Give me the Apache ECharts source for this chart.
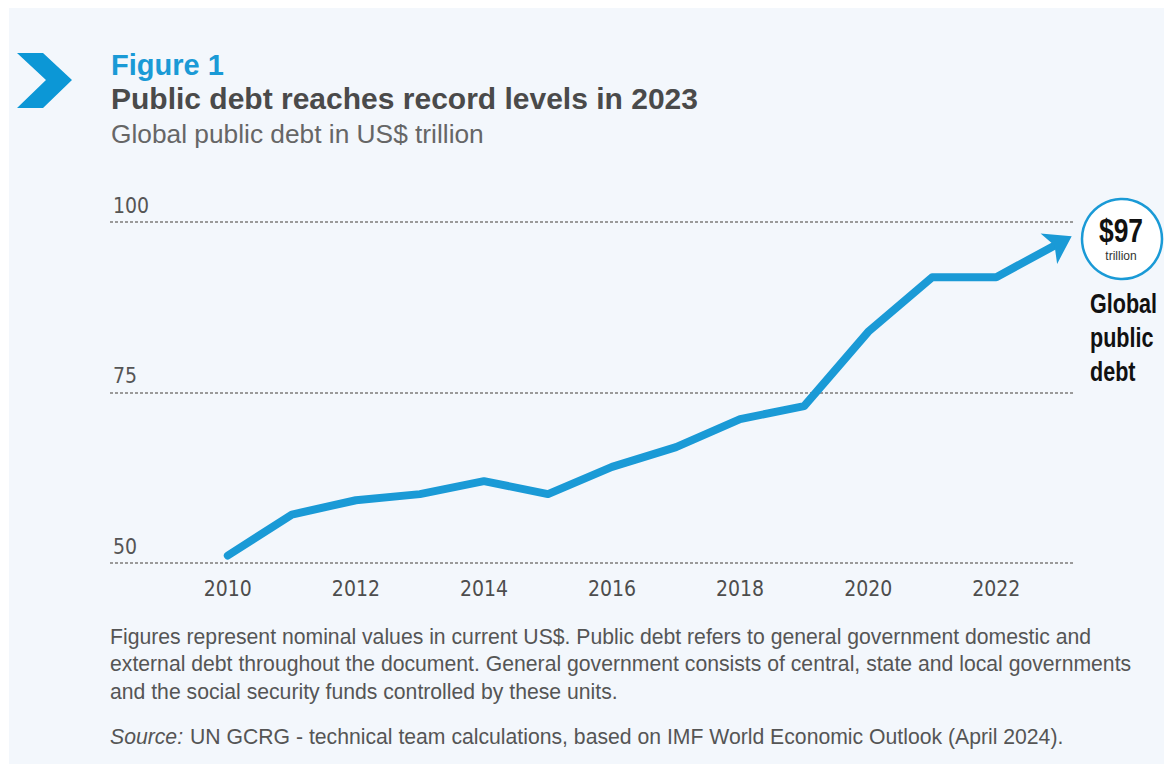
<!DOCTYPE html>
<html>
<head>
<meta charset="utf-8">
<script src="https://cdn.jsdelivr.net/npm/echarts@6/dist/echarts.min.js"></script>
<style>
  html, body { margin: 0; padding: 0; background: #ffffff; }
  #chart { width: 1171px; height: 764px; }
</style>
</head>
<body>
<div id="chart"></div>
<script>
// ---- data ----
const years = [2010, 2011, 2012, 2013, 2014, 2015, 2016, 2017, 2018, 2019, 2020, 2021, 2022, 2023];
const debt = [51.1, 57.1, 59.2, 60.1, 62.0, 60.1, 64.1, 67.0, 71.1, 73.0, 83.9, 91.9, 91.9, 97.0];
const xTickLabels = [2010, 2012, 2014, 2016, 2018, 2020, 2022];
const yTicks = [50, 75, 100];
const figureLabel = 'Figure 1';
const titleText = 'Public debt reaches record levels in 2023';
const subtitleText = 'Global public debt in US$ trillion';
const calloutValue = '$97';
const calloutUnit = 'trillion';
const calloutLines = ['Global', 'public', 'debt'];
const noteLines = [
  'Figures represent nominal values in current US$. Public debt refers to general government domestic and',
  'external debt throughout the document. General government consists of central, state and local governments',
  'and the social security funds controlled by these units.'
];
const sourceLabel = 'Source:';
const sourceText = 'UN GCRG - technical team calculations, based on IMF World Economic Outlook (April 2024).';

// ---- styles ----
const BLUE = '#1a9ad6';
const NARROW = '"DejaVu Sans Condensed", "Liberation Sans", sans-serif';
const SANS = '"Liberation Sans", Arial, sans-serif';

const chart = echarts.init(document.getElementById('chart'), null, { renderer: 'svg' });

const seriesData = years.map((y, i) => [y, debt[i]]);
const n = years.length;

const graphics = [
  { type: 'rect', z: -10, shape: { x: 9, y: 8, width: 1155, height: 760 }, style: { fill: '#f3f7fc' } },
  { type: 'polygon', shape: { points: [[17, 53], [43, 53], [72, 80], [43, 108], [17, 108], [46, 80]] }, style: { fill: '#0c97d6' } },
  { type: 'text', x: 111, y: 65, style: { text: figureLabel, font: 'bold 29px ' + SANS, fill: BLUE, verticalAlign: 'middle' } },
  { type: 'text', x: 111, y: 98, style: { text: titleText, font: 'bold 30px ' + SANS, fill: '#4a4a4a', verticalAlign: 'middle' } },
  { type: 'text', x: 111, y: 134, style: { text: subtitleText, font: '26.3px ' + SANS, fill: '#666666', verticalAlign: 'middle' } },
  { type: 'circle', shape: { cx: 1122, cy: 239, r: 40 }, style: { fill: '#ffffff', stroke: BLUE, lineWidth: 2.5 } },
  { type: 'text', x: 1121, y: 230, scaleX: 0.8, style: { text: calloutValue, font: 'bold 33px ' + SANS, fill: '#111111', align: 'center', verticalAlign: 'middle' } },
  { type: 'text', x: 1121, y: 256, style: { text: calloutUnit, font: '12px ' + SANS, fill: '#333333', align: 'center', verticalAlign: 'middle' } }
];
calloutLines.forEach((t, i) => {
  graphics.push({ type: 'text', x: 1090, y: 303 + i * 34, scaleX: 0.77, style: { text: t, font: 'bold 28px ' + SANS, fill: '#111111', verticalAlign: 'middle' } });
});
noteLines.forEach((t, i) => {
  graphics.push({ type: 'text', x: 110, y: 636 + i * 27.5, style: { text: t, font: '21.2px ' + SANS, fill: '#555555', verticalAlign: 'middle' } });
});
graphics.push({ type: 'text', x: 110, y: 736, style: { text: sourceLabel, font: 'italic 21.2px ' + SANS, fill: '#555555', verticalAlign: 'middle' } });
graphics.push({ type: 'text', x: 190, y: 736, style: { text: sourceText, font: '21.2px ' + SANS, fill: '#555555', verticalAlign: 'middle' } });

function buildData(arrowRotate, arrowOffset) {
  return seriesData.map((d, i) => {
    if (i < n - 1) return d;
    return {
      value: d,
      symbol: 'arrow',
      symbolSize: [26, 26],
      symbolRotate: arrowRotate,
      symbolOffset: arrowOffset,
      itemStyle: { color: BLUE }
    };
  });
}

chart.setOption({
  animation: false,
  backgroundColor: 'transparent',
  grid: { left: 110, right: 96, top: 222, bottom: 201 },
  xAxis: {
    type: 'value',
    min: 2008.16,
    max: 2023.23,
    axisLine: { show: false },
    axisTick: { show: false },
    splitLine: { show: false },
    axisLabel: {
      customValues: xTickLabels,
      formatter: v => String(v),
      margin: 15,
      color: '#4d4d4d',
      fontFamily: NARROW,
      fontSize: 21
    }
  },
  yAxis: {
    type: 'value',
    min: 50,
    max: 100,
    interval: 25,
    axisLine: { show: false },
    axisTick: { show: false },
    axisLabel: {
      inside: true,
      margin: 3,
      verticalAlign: 'bottom',
      padding: [0, 0, 6, 0],
      color: '#555555',
      fontFamily: NARROW,
      fontSize: 21,
      formatter: v => (yTicks.indexOf(v) >= 0 ? String(v) : '')
    },
    splitLine: { show: true, lineStyle: { color: '#9a9a9a', width: 2, type: [3, 2] } }
  },
  series: [{
    type: 'line',
    data: buildData(0, [0, 0]),
    symbol: 'none',
    showAllSymbol: true,
    lineStyle: { color: BLUE, width: 8, cap: 'round', join: 'round' }
  }],
  graphic: graphics
});

// orient the arrowhead along the last segment, using the library's own pixel mapping
const p1 = chart.convertToPixel({ seriesIndex: 0 }, seriesData[n - 2]);
const p2 = chart.convertToPixel({ seriesIndex: 0 }, seriesData[n - 1]);
const dx = p2[0] - p1[0], dy = p2[1] - p1[1];
const len = Math.sqrt(dx * dx + dy * dy) || 1;
const thetaDeg = Math.atan2(-dy, dx) * 180 / Math.PI;
const rot = -(90 - thetaDeg);
const push = 13;
chart.setOption({ series: [{ data: buildData(rot, [dx / len * push, dy / len * push]) }] });
</script>
</body>
</html>
